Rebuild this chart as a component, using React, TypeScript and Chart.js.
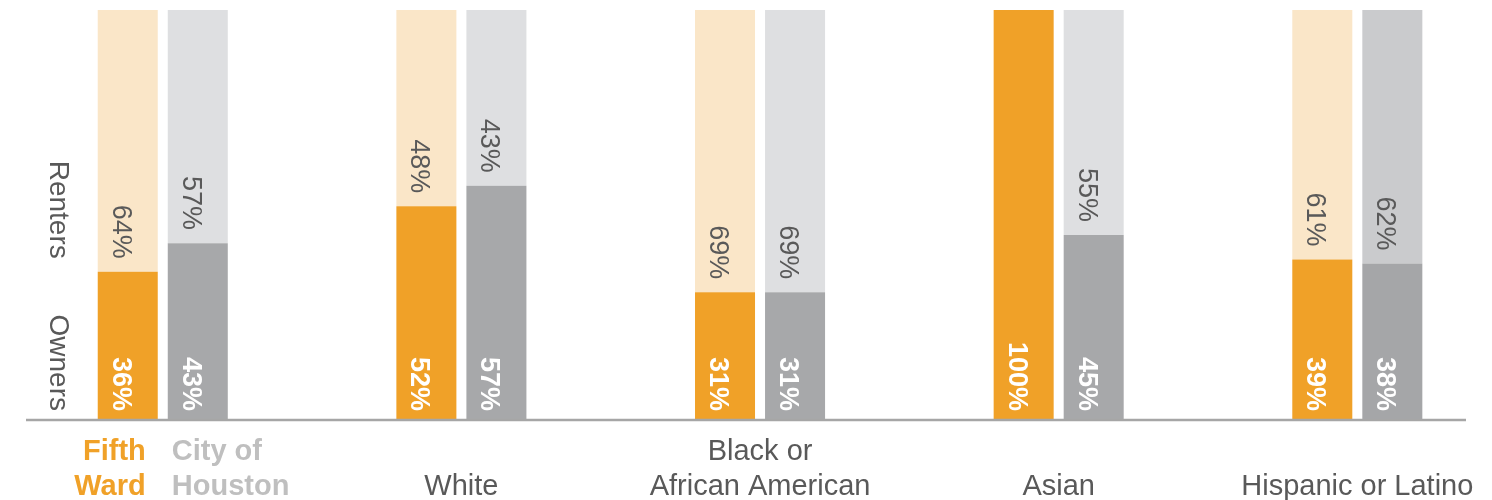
import { useEffect, useRef } from "react";
import { Chart, registerables } from "chart.js";

Chart.register(...registerables);

// ---- data ----
const categories = ["All households", "White", "Black or African American", "Asian", "Hispanic or Latino"];
const categoryLabelLines: string[][] = [[], ["White"], ["Black or", "African American"], ["Asian"], ["Hispanic or Latino"]];
const seriesLabelLines: string[][] = [["Fifth", "Ward"], ["City of", "Houston"]];
const sideLabels = ["Renters", "Owners"];
const fifthWardOwners = [36, 52, 31, 100, 39];
const fifthWardRenters = [64, 48, 69, 0, 61];
const houstonOwners = [43, 57, 31, 45, 38];
const houstonRenters = [57, 43, 69, 55, 62];

// ---- styles ----
const FONT = '"Liberation Sans", Arial, Helvetica, sans-serif';
const ORANGE = "#F0A128";
const ORANGE_LIGHT = "#FAE6C8";
const GRAY_OWN = ["#A7A8AA", "#A7A8AA", "#A7A8AA", "#A7A8AA", "#A5A6A8"];
const GRAY_RENT = ["#DEDFE1", "#DEDFE1", "#DEDFE1", "#DEDFE1", "#CACBCD"];
const TEXT = "#595959";

const labelPlugin = {
  id: "customLabels",
  afterDatasetsDraw(chart: any) {
    const ctx: CanvasRenderingContext2D = chart.ctx;
    const area = chart.chartArea;
    const metas = [0, 1, 2, 3].map((d) => chart.getDatasetMeta(d));
    const values = [fifthWardOwners, fifthWardRenters, houstonOwners, houstonRenters];
    ctx.save();

    // axis line
    ctx.strokeStyle = "#A6A6A6";
    ctx.lineWidth = 2.5;
    ctx.beginPath();
    ctx.moveTo(26, area.bottom + 1);
    ctx.lineTo(1466, area.bottom + 1);
    ctx.stroke();

    const rot = (text: string, x: number, yEnd: number, font: string, color: string) => {
      ctx.save();
      ctx.translate(x, yEnd);
      ctx.rotate(Math.PI / 2);
      ctx.font = font;
      ctx.fillStyle = color;
      ctx.textAlign = "right";
      ctx.textBaseline = "alphabetic";
      ctx.fillText(text, 0, 0);
      ctx.restore();
    };

    // value labels
    [0, 2].forEach((d) => {
      metas[d].data.forEach((el: any, i: number) => {
        const v = values[d][i];
        if (v > 0) rot(`${v}%`, el.x - 15, el.base - 8, `bold 27px ${FONT}`, "#FFFFFF");
      });
    });
    [1, 3].forEach((d) => {
      metas[d].data.forEach((el: any, i: number) => {
        const v = values[d][i];
        if (v > 0) rot(`${v}%`, el.x - 15, el.base - 13, `27px ${FONT}`, TEXT);
      });
    });

    // side labels
    const renterEnd = metas[1].data[0].base - 13;
    rot(sideLabels[0], 50, renterEnd, `28px ${FONT}`, TEXT);
    rot(sideLabels[1], 50, area.bottom - 8, `28px ${FONT}`, TEXT);

    // category labels
    ctx.textBaseline = "alphabetic";
    ctx.font = `29px ${FONT}`;
    ctx.fillStyle = TEXT;
    ctx.textAlign = "center";
    const lastBase = 495;
    const lineH = 35;
    categoryLabelLines.forEach((lines, i) => {
      if (!lines.length) return;
      const cx = (metas[0].data[i].x + metas[2].data[i].x) / 2;
      lines.forEach((ln, k) => {
        ctx.fillText(ln, cx, lastBase - (lines.length - 1 - k) * lineH);
      });
    });

    // series labels under first group
    ctx.font = `bold 29px ${FONT}`;
    const fw = metas[0].data[0];
    const ch = metas[2].data[0];
    ctx.fillStyle = ORANGE;
    ctx.textAlign = "right";
    seriesLabelLines[0].forEach((ln, k) => {
      ctx.fillText(ln, fw.x + fw.width / 2 - 12, lastBase - (1 - k) * lineH);
    });
    ctx.fillStyle = "#BFBFBF";
    ctx.textAlign = "left";
    seriesLabelLines[1].forEach((ln, k) => {
      ctx.fillText(ln, ch.x - ch.width / 2 + 4, lastBase - (1 - k) * lineH);
    });

    ctx.restore();
  },
};

export default function App() {
  const ref = useRef<HTMLCanvasElement | null>(null);

  useEffect(() => {
    if (!ref.current) return;
    const pts = (arr: number[]) => arr.map((v, i) => ({ x: i, y: v }));
    const chart = new Chart(ref.current, {
      type: "bar",
      data: {
        datasets: [
          { label: "Fifth Ward – Owners", data: pts(fifthWardOwners) as any, stack: "fw", backgroundColor: ORANGE },
          { label: "Fifth Ward – Renters", data: pts(fifthWardRenters) as any, stack: "fw", backgroundColor: ORANGE_LIGHT },
          { label: "City of Houston – Owners", data: pts(houstonOwners) as any, stack: "city", backgroundColor: GRAY_OWN },
          { label: "City of Houston – Renters", data: pts(houstonRenters) as any, stack: "city", backgroundColor: GRAY_RENT },
        ],
      },
      options: {
        responsive: false,
        animation: false,
        layout: { padding: { top: 10, bottom: 81, left: 0, right: 0 } },
        datasets: {
          bar: { categoryPercentage: 0.469, barPercentage: 0.857, borderWidth: 0 },
        } as any,
        scales: {
          x: {
            type: "linear",
            display: false,
            stacked: true,
            offset: false,
            min: -0.545,
            max: 4.451,
            afterBuildTicks: (scale: any) => {
              scale.ticks = categories.map((_, i) => ({ value: i }));
            },
          },
          y: { display: false, stacked: true, min: 0, max: 100 },
        },
        plugins: {
          legend: { display: false },
          tooltip: { enabled: false },
        },
      },
      plugins: [labelPlugin],
    });
    return () => chart.destroy();
  }, []);

  return (
    <div style={{ position: "fixed", left: 0, top: 0, width: 1492, height: 500, background: "#fff" }}>
      <canvas ref={ref} width={1492} height={500} style={{ display: "block" }} />
    </div>
  );
}
